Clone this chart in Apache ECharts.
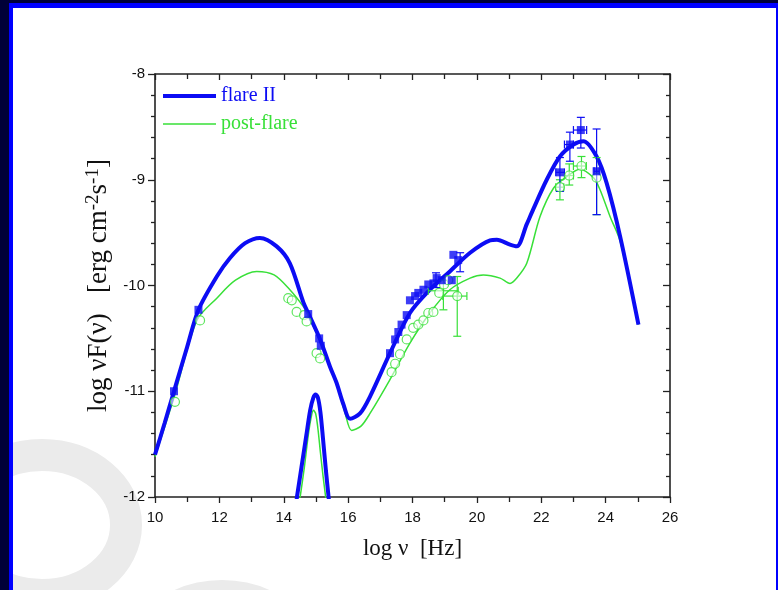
<!DOCTYPE html>
<html><head><meta charset="utf-8">
<script src="https://cdn.jsdelivr.net/npm/echarts@6/dist/echarts.min.js"></script>
<style>html,body{margin:0;padding:0;background:#fff}#c{width:778px;height:590px}</style>
</head><body><div id="c"></div>
<script>
// ---- data (log nu, log nuF(nu)) ----
const flareCurve = [[10.0,-11.60],[10.3,-11.30],[10.6,-10.99],[11.0,-10.58],[11.35,-10.23],[11.92,-9.915],[12.33,-9.74],[12.8,-9.60],[13.26,-9.55],[13.78,-9.63],[14.19,-9.79],[14.61,-10.16],[14.76,-10.26],[15.13,-10.51],[15.44,-10.77],[15.64,-10.92],[15.85,-11.12],[16.06,-11.26],[16.37,-11.21],[16.68,-11.05],[17.30,-10.64],[17.92,-10.26],[18.54,-10.04],[19.16,-9.867],[19.79,-9.69],[20.41,-9.573],[20.62,-9.567],[21.03,-9.614],[21.24,-9.63],[21.55,-9.42],[21.75,-9.28],[22.17,-9.0],[22.58,-8.78],[23.0,-8.667],[23.31,-8.635],[23.72,-8.78],[24.03,-9.03],[24.45,-9.535],[25.02,-10.37]];
const flareSpike = [[14.40,-12.02],[14.55,-11.72],[14.70,-11.42],[14.82,-11.18],[14.92,-11.06],[14.99,-11.03],[15.06,-11.06],[15.14,-11.2],[15.22,-11.45],[15.31,-11.75],[15.40,-12.02]];
const postCurve = [[10.0,-11.62],[10.6,-11.05],[11.3,-10.33],[11.92,-10.12],[12.5,-9.95],[13.16,-9.867],[13.7,-9.90],[14.19,-10.04],[14.61,-10.2],[14.76,-10.28],[15.13,-10.53],[15.64,-10.93],[15.9,-11.2],[16.11,-11.37],[16.4,-11.33],[16.68,-11.21],[17.30,-10.89],[17.92,-10.545],[18.54,-10.26],[19.16,-10.04],[19.79,-9.93],[20.20,-9.90],[20.72,-9.93],[21.03,-9.98],[21.24,-9.93],[21.55,-9.79],[21.96,-9.35],[22.38,-9.08],[22.79,-8.97],[23.2,-8.90],[23.62,-8.98],[23.82,-9.09],[24.14,-9.35],[24.45,-9.58],[25.02,-10.37]];
const postSpike = [[14.50,-12.02],[14.64,-11.72],[14.76,-11.42],[14.85,-11.25],[14.92,-11.18],[14.99,-11.21],[15.06,-11.35],[15.14,-11.58],[15.22,-11.8],[15.31,-12.02]];
const flarePoints = [[10.59,-11.0],[11.35,-10.23],[14.76,-10.27],[15.10,-10.50],[15.15,-10.57],[17.30,-10.64],[17.46,-10.51],[17.56,-10.44],[17.66,-10.37],[17.82,-10.28],[17.92,-10.14],[18.08,-10.10],[18.18,-10.07],[18.34,-10.04],[18.49,-9.99],[18.65,-9.98],[18.75,-9.93],[18.91,-9.95],[19.22,-9.95],[19.27,-9.71],[19.42,-9.76],[22.58,-8.93],[22.89,-8.667],[23.23,-8.53],[23.72,-8.92]];
const postPoints = [[10.62,-11.10],[11.40,-10.33],[14.14,-10.12],[14.25,-10.14],[14.40,-10.25],[14.63,-10.28],[14.71,-10.34],[15.02,-10.64],[15.13,-10.69],[17.35,-10.82],[17.46,-10.74],[17.61,-10.65],[17.82,-10.51],[18.02,-10.40],[18.18,-10.37],[18.34,-10.33],[18.49,-10.26],[18.65,-10.25],[18.83,-10.07],[18.98,-9.99],[19.11,-9.95],[19.39,-10.10],[22.58,-9.07],[22.87,-8.96],[23.25,-8.87],[23.72,-8.98]];
// error bars: [x, y, xLow, xHigh, yLow, yHigh]
const flareErrors = [[18.73,-9.95,18.73,18.73,-10.02,-9.88],[19.48,-9.76,19.48,19.48,-9.87,-9.69],[22.58,-8.93,22.45,22.72,-9.11,-8.79],[22.89,-8.667,22.72,23.0,-8.825,-8.55],[23.23,-8.53,23.0,23.41,-8.70,-8.41],[23.72,-8.92,23.64,23.80,-9.33,-8.52]];
const postErrors = [[18.96,-10.05,18.49,19.42,-10.23,-9.95],[19.39,-10.10,18.94,19.69,-10.48,-9.915],[22.58,-9.07,22.45,22.70,-9.19,-9.0],[22.87,-8.96,22.72,23.0,-9.05,-8.85],[23.25,-8.87,23.0,23.40,-8.98,-8.78],[23.72,-8.98,23.72,23.72,-9.33,-8.79]];
const seriesNames = ['flare II','post-flare'];

const BLUE = '#0c0cf4', GREEN = '#38e038';
const serif = '"Liberation Serif","Times New Roman",serif';
const sans = '"Liberation Sans",Arial,sans-serif';

function errRender(color){
  return function(params, api){
    const c = api.coord([api.value(0), api.value(1)]);
    const xl = api.coord([api.value(2), api.value(1)]);
    const xh = api.coord([api.value(3), api.value(1)]);
    const yl = api.coord([api.value(0), api.value(4)]);
    const yh = api.coord([api.value(0), api.value(5)]);
    const cap = 4, st = {stroke: color, lineWidth: 1.2};
    const ch = [];
    if (yh[1] !== yl[1]) {
      ch.push({type:'line', shape:{x1:c[0],y1:yh[1],x2:c[0],y2:yl[1]}, style:st});
      ch.push({type:'line', shape:{x1:c[0]-cap,y1:yh[1],x2:c[0]+cap,y2:yh[1]}, style:st});
      ch.push({type:'line', shape:{x1:c[0]-cap,y1:yl[1],x2:c[0]+cap,y2:yl[1]}, style:st});
    }
    if (xh[0] !== xl[0]) {
      ch.push({type:'line', shape:{x1:xl[0],y1:c[1],x2:xh[0],y2:c[1]}, style:st});
      ch.push({type:'line', shape:{x1:xl[0],y1:c[1]-cap,x2:xl[0],y2:c[1]+cap}, style:st});
      ch.push({type:'line', shape:{x1:xh[0],y1:c[1]-cap,x2:xh[0],y2:c[1]+cap}, style:st});
    }
    return {type:'group', children: ch};
  };
}

const axisCommon = {
  axisLine:{lineStyle:{color:'#222', width:1.6}},
  splitLine:{show:false}
};

const chart = echarts.init(document.getElementById('c'), null, {renderer:'canvas'});
chart.setOption({
  backgroundColor:'#ffffff',
  animation:false,
  graphic:[
    {type:'ellipse', z:-10, silent:true, shape:{cx:42, cy:525, rx:84, ry:70}, style:{fill:null, stroke:'#ebebeb', lineWidth:32}},
    {type:'ellipse', z:-10, silent:true, shape:{cx:222, cy:666, rx:84, ry:70}, style:{fill:null, stroke:'#ebebeb', lineWidth:32}},
    {type:'rect', z:100, silent:true, shape:{x:0,y:0,width:9,height:590}, style:{fill:'#000038'}},
    {type:'rect', z:100, silent:true, shape:{x:0,y:0,width:778,height:3}, style:{fill:'#000038'}},
    {type:'rect', z:100, silent:true, shape:{x:9,y:3,width:4,height:587}, style:{fill:'#0000ff'}},
    {type:'rect', z:100, silent:true, shape:{x:9,y:3,width:769,height:5}, style:{fill:'#0000ff'}},
    {type:'rect', z:100, silent:true, shape:{x:776,y:3,width:2,height:587}, style:{fill:'#0000ff'}}
  ],
  grid:{left:155, right:108, top:74, bottom:93},
  legend:{
    orient:'vertical', left:158, top:81, itemWidth:53, itemHeight:4, itemGap:8,
    data:[
      {name:seriesNames[0], icon:'path://M0,0H53V4H0Z', itemStyle:{color:BLUE}, textStyle:{color:BLUE}},
      {name:seriesNames[1], icon:'path://M0,0H53V0.01H0Z M0,1.3H53V2.7H0Z M0,3.99H53V4H0Z', itemStyle:{color:GREEN}, textStyle:{color:GREEN}}
    ],
    textStyle:{fontFamily:serif, fontSize:20}
  },
  xAxis:[
    Object.assign({
      type:'value', min:10, max:26, interval:2, position:'bottom',
      name:'log ν  [Hz]', nameLocation:'middle', nameGap:40,
      nameTextStyle:{fontFamily:serif, fontSize:23, color:'#111'},
      axisTick:{show:true, inside:false, length:6, lineStyle:{color:'#222', width:1.3}},
      minorTick:{show:true, splitNumber:2, length:5, lineStyle:{color:'#222', width:1.3}},
      axisLabel:{fontFamily:sans, fontSize:15, color:'#111', margin:13}
    }, axisCommon),
    Object.assign({
      type:'value', min:10, max:26, interval:2, position:'top',
      axisTick:{show:true, inside:true, length:6, lineStyle:{color:'#222', width:1.3}},
      minorTick:{show:true, splitNumber:2, length:5, lineStyle:{color:'#222', width:1.3}},
      axisLabel:{show:false}
    }, axisCommon)
  ],
  yAxis:[
    Object.assign({
      type:'value', min:-12, max:-8, interval:1, position:'left',
      name:'{n|log νF(ν)   [erg cm}{s|-2}{n|s}{s|-1}{n|]}', nameLocation:'middle', nameGap:40, nameRotate:90,
      nameTextStyle:{fontFamily:serif, fontSize:27, color:'#111',
        rich:{n:{fontFamily:serif, fontSize:27, color:'#111', lineHeight:30},
              s:{fontFamily:serif, fontSize:19, color:'#111', verticalAlign:'top', lineHeight:30}}},
      axisTick:{show:true, inside:false, length:7, lineStyle:{color:'#222', width:1.3}},
      minorTick:{show:true, splitNumber:5, length:4, lineStyle:{color:'#222', width:1.3}},
      axisLabel:{fontFamily:sans, fontSize:15, color:'#111', margin:10}
    }, axisCommon),
    Object.assign({
      type:'value', min:-12, max:-8, interval:1, position:'right',
      axisTick:{show:true, inside:true, length:7, lineStyle:{color:'#222', width:1.3}},
      minorTick:{show:true, splitNumber:5, length:4, lineStyle:{color:'#222', width:1.3}},
      axisLabel:{show:false}
    }, axisCommon)
  ],
  series:[
    {name:seriesNames[1], type:'line', data:postCurve, symbol:'none', smooth:0.3, z:2, lineStyle:{color:GREEN, width:1.5}, itemStyle:{color:GREEN}},
    {name:seriesNames[1]+' spike', type:'line', data:postSpike, symbol:'none', smooth:0.3, z:2, lineStyle:{color:GREEN, width:1.5}},
    {name:seriesNames[0], type:'line', data:flareCurve, symbol:'none', smooth:0.3, z:3, lineStyle:{color:BLUE, width:4}, itemStyle:{color:BLUE}},
    {name:seriesNames[0]+' spike', type:'line', data:flareSpike, symbol:'none', smooth:0.3, z:3, lineStyle:{color:BLUE, width:4}},
    {name:'post err', type:'custom', data:postErrors, renderItem:errRender(GREEN), z:4, encode:{x:[0,2,3], y:[1,4,5]}},
    {name:'flare err', type:'custom', data:flareErrors, renderItem:errRender(BLUE), z:5, encode:{x:[0,2,3], y:[1,4,5]}},
    {name:'post data', type:'scatter', data:postPoints, symbol:'circle', symbolSize:9, z:6, itemStyle:{color:'rgba(255,255,255,0.7)', borderColor:GREEN, borderWidth:1.2}},
    {name:'flare data', type:'scatter', data:flarePoints, symbol:'rect', symbolSize:8, z:7, itemStyle:{color:BLUE}}
  ]
});
</script></body></html>
